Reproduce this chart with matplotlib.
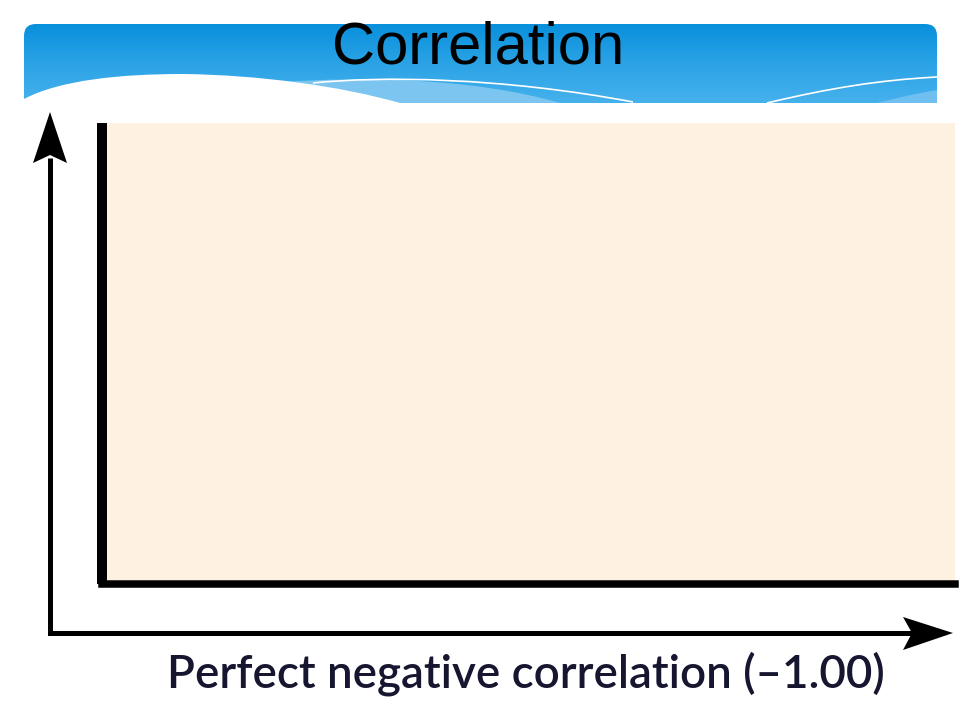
import numpy as np
import matplotlib
matplotlib.use("Agg")
import matplotlib.pyplot as plt
from matplotlib.path import Path
from matplotlib.patches import PathPatch, FancyBboxPatch, Polygon
from matplotlib.colors import LinearSegmentedColormap

# ---- content ----
title_text = "Correlation"
xlabel_text = "Perfect negative correlation (–1.00)"
# no data points are shown in the reference panel
x_values = []
y_values = []

W, H = 960, 720
fig = plt.figure(figsize=(9.6, 7.2), dpi=100)
fig.patch.set_facecolor("white")

bg = fig.add_axes([0, 0, 1, 1])
bg.set_xlim(0, W)
bg.set_ylim(H, 0)
bg.axis("off")

# ---- banner ----
cmap = LinearSegmentedColormap.from_list("banner", ["#0990dc", "#2ba3e6", "#46b1ec"])
grad = np.linspace(0, 1, 200).reshape(-1, 1)
im = bg.imshow(grad, extent=(24, 937, 103, 24), aspect="auto", cmap=cmap, zorder=1)
clip = FancyBboxPatch((24, 24), 913, 130, boxstyle="round,pad=0,rounding_size=12",
                      transform=bg.transData, facecolor="none", edgecolor="none")
bg.add_patch(clip)
im.set_clip_path(clip)

# light band
band = Path([(280, 82), (360, 77), (470, 77), (560, 103), (280, 103), (280, 82)],
            [Path.MOVETO, Path.CURVE4, Path.CURVE4, Path.CURVE4, Path.LINETO, Path.CLOSEPOLY])
bg.add_patch(PathPatch(band, facecolor="#7cc5f1", edgecolor="none", zorder=2))
# right light wedge
wedge = Path([(877, 103), (900, 97), (920, 93), (937, 90), (937, 103), (877, 103)],
             [Path.MOVETO, Path.CURVE4, Path.CURVE4, Path.CURVE4, Path.LINETO, Path.CLOSEPOLY])
bg.add_patch(PathPatch(wedge, facecolor="#6fbff0", edgecolor="none", zorder=2))
# white hill
hill = Path([(24, 103), (24, 99), (60, 80), (120, 74), (183, 74),
             (260, 75), (340, 86), (400, 103), (24, 103)],
            [Path.MOVETO, Path.LINETO, Path.CURVE4, Path.CURVE4, Path.CURVE4,
             Path.CURVE4, Path.CURVE4, Path.CURVE4, Path.CLOSEPOLY])
bg.add_patch(PathPatch(hill, facecolor="white", edgecolor="none", zorder=3))
# thin white lines
l1 = Path([(313, 83), (380, 76), (500, 77), (633, 102)],
          [Path.MOVETO, Path.CURVE4, Path.CURVE4, Path.CURVE4])
bg.add_patch(PathPatch(l1, facecolor="none", edgecolor="white", lw=1.2, zorder=3))
l2 = Path([(767, 103), (830, 88), (880, 80), (937, 77)],
          [Path.MOVETO, Path.CURVE4, Path.CURVE4, Path.CURVE4])
bg.add_patch(PathPatch(l2, facecolor="none", edgecolor="white", lw=1.2, zorder=3))

bg.text(478, 63, title_text, ha="center", va="baseline", fontsize=43,
        family="Liberation Sans", color="black", zorder=5)

# ---- outer axis arrows ----
bg.plot([50, 50, 912], [158, 633, 633], color="black", lw=3.6,
        solid_joinstyle="miter", solid_capstyle="butt", zorder=4)
bg.add_patch(Polygon([(50, 112), (67, 163), (50, 155), (33, 163)], closed=True,
                     facecolor="black", edgecolor="none", zorder=4))
bg.add_patch(Polygon([(953, 633), (903, 617), (912, 633), (903, 650)], closed=True,
                     facecolor="black", edgecolor="none", zorder=4))

# ---- plot panel ----
ax = fig.add_axes([102 / W, (H - 584) / H, (955 - 102) / W, (584 - 123) / H])
ax.set_facecolor("#fef1e2")
ax.scatter(x_values, y_values, color="black")
ax.set_xlim(0, 1)
ax.set_ylim(0, 1)
ax.set_xticks([])
ax.set_yticks([])
for s in ("top", "right"):
    ax.spines[s].set_visible(False)
ax.spines["left"].set_linewidth(7.2)
ax.spines["bottom"].set_linewidth(5.4)
ax.spines["bottom"].set_capstyle("projecting")
ax.spines["left"].set_capstyle("butt")

lab = bg.text(526, 688, xlabel_text, ha="center", va="baseline", fontsize=30,
              family="Lato", weight="semibold", color="#161630", zorder=5)
fig.canvas.draw()
w = lab.get_window_extent().width
lab.set_fontsize(30 * 717 / w)

fig.savefig("out.png", dpi=100, facecolor="white")
